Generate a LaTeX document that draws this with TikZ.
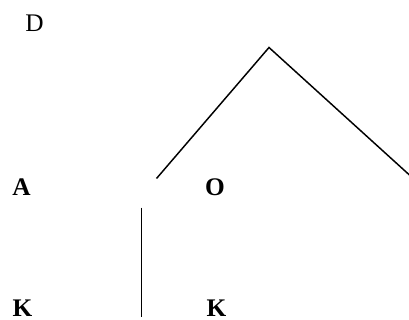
\documentclass[tikz,border=0pt]{standalone}
\usepackage{fontspec}
\setmainfont{Liberation Serif}
\usepackage{tikz}
\usetikzlibrary{positioning}
\tikzset{
  letter/.style={inner sep=0pt, font=\fontsize{19}{22}\selectfont},
  bletter/.style={letter, font=\fontsize{19}{22}\selectfont\bfseries},
  stroke/.style={line width=1.1pt, line cap=butt}
}
\begin{document}
\begin{tikzpicture}[x=0.75pt, y=-0.75pt]
  \useasboundingbox (0,0) rectangle (409,320);
  \node[letter] (d) at (34.5,23) {D};
  \node[bletter] (a) at (21.5,187) {A};
  \node[bletter] (o) at (215,187) {O};
  \node[bletter] (kl) at (22.5,308) {K};
  \node[bletter] (kr) at (216.5,308) {K};
  \coordinate (apex) at (269,47.5);
  \coordinate (lfoot) at (156.5,178.5);
  \coordinate (rfoot) at (410,175.5);
  \coordinate (vtop) at (141.5,207.5);
  \coordinate (vbot) at (141.5,317);
  \draw[stroke] (lfoot) -- (apex) -- (rfoot);
  \draw[stroke] (vtop) -- (vbot);
\end{tikzpicture}
\end{document}
